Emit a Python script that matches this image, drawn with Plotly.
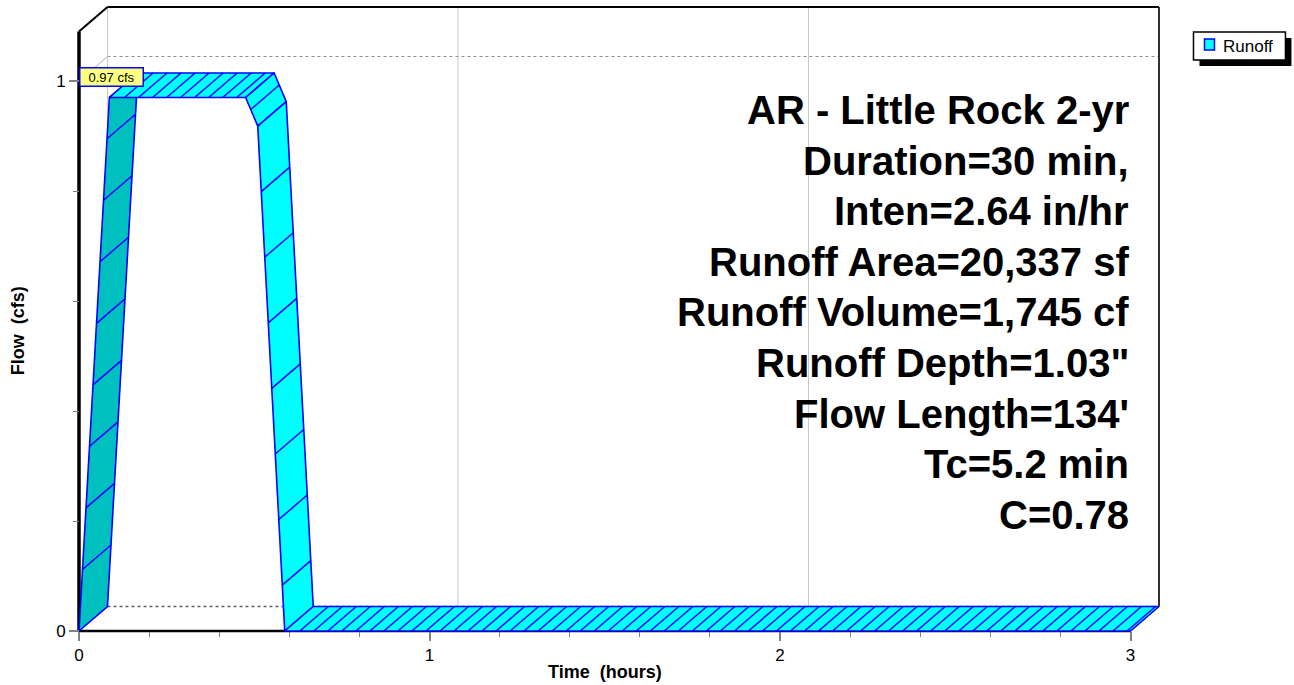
import numpy as np
import plotly.graph_objects as go

# ---------------- data ----------------
series_name = "Runoff"
time_hr = [0.0, 0.0867, 0.4755, 0.510, 0.587, 3.0]
flow_cfs = [0.0, 0.97, 0.97, 0.918, 0.0, 0.0]
x_tick_vals = [0, 1, 2, 3]
x_tick_text = ["0", "1", "2", "3"]
y_tick_vals = [0, 1]
y_tick_text = ["0", "1"]
x_title = "Time\u00a0 (hours)"
y_title = "Flow\u00a0 (cfs)"
info_lines = [
    "AR - Little Rock 2-yr",
    "Duration=30 min,",
    "Inten=2.64 in/hr",
    "Runoff Area=20,337 sf",
    "Runoff Volume=1,745 cf",
    "Runoff Depth=1.03\"",
    "Flow Length=134'",
    "Tc=5.2 min",
    "C=0.78",
]

# ---------------- style / geometry constants ----------------
W, H = 1294, 685
FRONT_LEFT_PX = 79          # pixel of x=0
FRONT_BOTTOM_PX = 631       # pixel of y=0
PX_PER_HR = 1052 / 3.0
PX_PER_CFS = 550.0
DEPTH_PX = (28.5, 24.5)     # 3-D depth offset (right, up)
PAD = 6                     # extra px around drawing so frame lines are not clipped
X_MAX = 3.0
BACK_TOP_PX = 7
INFO_FIRST_PX = 110         # centre of first info line
INFO_STEP_PX = 50.6         # line spacing of info block

DX = DEPTH_PX[0] / PX_PER_HR
DY = DEPTH_PX[1] / PX_PER_CFS
Y_BACK_TOP = (FRONT_BOTTOM_PX - BACK_TOP_PX) / PX_PER_CFS
Y_FRONT_TOP = Y_BACK_TOP - DY

CYAN = "#00FFFF"
DARK = "#00BFBF"
BLUE = "#0000FF"
FONT = "Liberation Sans, Arial, sans-serif"

# plot area in pixels (drawing + pad)
PL = FRONT_LEFT_PX - PAD
PR = FRONT_LEFT_PX + (X_MAX + DX) * PX_PER_HR + PAD
PT = BACK_TOP_PX - PAD
PB = FRONT_BOTTOM_PX + PAD
PW, PH = PR - PL, PB - PT

x_range = [-PAD / PX_PER_HR, X_MAX + DX + PAD / PX_PER_HR]
y_range = [-PAD / PX_PER_CFS, Y_BACK_TOP + PAD / PX_PER_CFS]


def paper_x(px):
    return (px - PL) / PW


def paper_y(py):
    return (PB - py) / PH


fig = go.Figure()

# ---------------- ribbon faces ----------------
for i in range(len(time_hr) - 1):
    t0, t1 = time_hr[i], time_hr[i + 1]
    q0, q1 = flow_cfs[i], flow_cfs[i + 1]
    fig.add_trace(go.Scatter(
        x=[t0, t1, t1 + DX, t0 + DX, t0],
        y=[q0, q1, q1 + DY, q0 + DY, q0],
        mode="lines", fill="toself",
        fillcolor=DARK if q1 > q0 else CYAN,
        line=dict(color=BLUE, width=1.6),
        name=series_name, showlegend=False, hoverinfo="skip",
    ))

# ---------------- hatch lines (texture along the ribbon) ----------------
t_arr = np.array(time_hr)
q_arr = np.array(flow_cfs)
samples = sorted(set(np.round(np.arange(0, X_MAX + 1e-9, 0.01), 4)) | set(time_hr))
vert_set = set(time_hr)
hx, hy = [], []
last = None
for ts in samples:
    qs = float(np.interp(ts, t_arr, q_arr))
    p = (ts * PX_PER_HR, qs * PX_PER_CFS)
    if ts in vert_set:
        last = p
        continue
    if last is None or np.hypot(p[0] - last[0], p[1] - last[1]) >= 12:
        hx += [ts, ts + DX, None]
        hy += [qs, qs + DY, None]
        last = p
fig.add_trace(go.Scatter(x=hx, y=hy, mode="lines",
                         line=dict(color=BLUE, width=1.5),
                         showlegend=False, hoverinfo="skip"))

# ---------------- 3-D frame / back-plane grid ----------------
shapes = []


def seg(x0, y0, x1, y1, color, width, dash="solid", layer="below"):
    shapes.append(dict(type="line", xref="x", yref="y", x0=x0, y0=y0, x1=x1, y1=y1,
                       line=dict(color=color, width=width, dash=dash), layer=layer))


for v in x_tick_vals[1:-1]:
    seg(v + DX, DY, v + DX, Y_BACK_TOP, "#C8C8C8", 1)
for v in y_tick_vals[1:]:
    seg(DX, v + DY, X_MAX + DX, v + DY, "#909090", 1, "dot")
    seg(0, v, DX, v + DY, "#B0B0B0", 1)
seg(DX, DY, DX, Y_BACK_TOP, "#C8C8C8", 1)
seg(DX, DY, X_MAX + DX, DY, "#606060", 1.5, "dot")
seg(DX, Y_BACK_TOP, X_MAX + DX, Y_BACK_TOP, "#000000", 2)
seg(X_MAX + DX, DY, X_MAX + DX, Y_BACK_TOP, "#303030", 2)
seg(0, 0, X_MAX, 0, "#000000", 2.5)
seg(0, 0, 0, Y_FRONT_TOP, "#000000", 3.5)
seg(0, Y_FRONT_TOP, DX, Y_BACK_TOP, "#000000", 2)

# ---------------- legend (drawn box with drop shadow) ----------------
LEG = dict(x0=1194, y0=32, x1=1286, y1=60)
shapes.append(dict(type="rect", xref="paper", yref="paper",
                   x0=paper_x(LEG["x0"] + 6), x1=paper_x(LEG["x1"] + 6),
                   y0=paper_y(LEG["y1"] + 6), y1=paper_y(LEG["y0"] + 6),
                   fillcolor="#000000", line=dict(width=0), layer="above"))
shapes.append(dict(type="rect", xref="paper", yref="paper",
                   x0=paper_x(LEG["x0"]), x1=paper_x(LEG["x1"]),
                   y0=paper_y(LEG["y1"]), y1=paper_y(LEG["y0"]),
                   fillcolor="#FFFFFF", line=dict(color="#000000", width=1.5), layer="above"))
shapes.append(dict(type="rect", xref="paper", yref="paper",
                   x0=paper_x(1205), x1=paper_x(1215),
                   y0=paper_y(50), y1=paper_y(39),
                   fillcolor=CYAN, line=dict(color=BLUE, width=1.5), layer="above"))

annotations = [
    dict(xref="paper", yref="paper", x=paper_x(1222), y=paper_y(46),
         xanchor="left", yanchor="middle", text=series_name, showarrow=False,
         font=dict(family=FONT, size=17, color="#000000")),
    # peak label
    dict(xref="x", yref="y", x=0, y=max(flow_cfs) + DY, xanchor="left", yanchor="middle",
         yshift=-4, text=f"{max(flow_cfs):.2f} cfs", showarrow=False,
         bgcolor="#FFFF80", bordercolor=BLUE, borderwidth=1.5, borderpad=1,
         width=60, height=15, font=dict(family=FONT, size=13, color="#000000")),
    # axis titles
    dict(xref="x", yref="paper", x=X_MAX / 2, y=paper_y(672), xanchor="center", yanchor="middle",
         text=f"<b>{x_title}</b>", showarrow=False, font=dict(family=FONT, size=18, color="#000000")),
    dict(xref="paper", yref="y", x=paper_x(18), y=Y_FRONT_TOP / 2, xanchor="center", yanchor="middle",
         text=f"<b>{y_title}</b>", textangle=-90, showarrow=False,
         font=dict(family=FONT, size=18, color="#000000")),
]
# info block, one right-aligned line each
for k, line in enumerate(info_lines):
    annotations.append(dict(
        xref="x", yref="paper", x=X_MAX, y=paper_y(INFO_FIRST_PX + k * INFO_STEP_PX),
        xanchor="right", yanchor="middle", align="right", showarrow=False,
        text=f"<b>{line}</b>", font=dict(family=FONT, size=40, color="#000000")))

fig.update_layout(
    width=W, height=H,
    margin=dict(l=PL, r=W - PR, t=PT, b=H - PB, pad=0),
    paper_bgcolor="#FFFFFF", plot_bgcolor="#FFFFFF",
    showlegend=False,
    shapes=shapes, annotations=annotations,
    xaxis=dict(range=x_range, showgrid=False, zeroline=False, showline=False,
               anchor="free", position=paper_y(FRONT_BOTTOM_PX),
               tickmode="array", tickvals=x_tick_vals, ticktext=x_tick_text,
               ticks="outside", ticklen=9, tickwidth=1.5, tickcolor="#808080",
               minor=dict(dtick=0.2, tick0=0, ticks="outside", ticklen=5, tickwidth=1.2,
                          tickcolor="#808080"),
               tickfont=dict(family=FONT, size=17, color="#000000")),
    yaxis=dict(range=y_range, showgrid=False, zeroline=False, showline=False,
               anchor="free", position=paper_x(FRONT_LEFT_PX),
               tickmode="array", tickvals=y_tick_vals, ticktext=y_tick_text,
               ticks="outside", ticklen=10, tickwidth=1.5, tickcolor="#808080",
               minor=dict(dtick=0.2, tick0=0, ticks="outside", ticklen=6, tickwidth=1.2,
                          tickcolor="#808080"),
               tickfont=dict(family=FONT, size=17, color="#000000")),
)

fig.write_html("out.html", config={"displayModeBar": False},
               post_script="document.body.style.margin='0';document.body.style.overflow='hidden';")
